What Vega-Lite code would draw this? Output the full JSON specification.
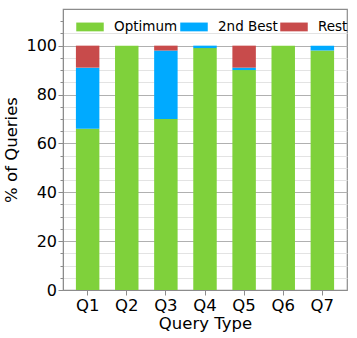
{
  "$schema": "https://vega.github.io/schema/vega-lite/v6.json",
  "width": 284,
  "height": 281,
  "autosize": {"type": "none"},
  "padding": {"left": 63, "top": 9, "right": 10, "bottom": 48},
  "background": "white",
  "config": {
    "font": "DejaVu Sans",
    "view": {"stroke": "#8c8c8c", "strokeWidth": 1.2}
  },
  "data": {
    "values": [
      {"q": "Q1", "type": "Optimum", "rank": 1, "pct": 66},
      {"q": "Q1", "type": "2nd Best", "rank": 2, "pct": 25},
      {"q": "Q1", "type": "Rest", "rank": 3, "pct": 9},
      {"q": "Q2", "type": "Optimum", "rank": 1, "pct": 100},
      {"q": "Q2", "type": "2nd Best", "rank": 2, "pct": 0},
      {"q": "Q2", "type": "Rest", "rank": 3, "pct": 0},
      {"q": "Q3", "type": "Optimum", "rank": 1, "pct": 70},
      {"q": "Q3", "type": "2nd Best", "rank": 2, "pct": 28},
      {"q": "Q3", "type": "Rest", "rank": 3, "pct": 2},
      {"q": "Q4", "type": "Optimum", "rank": 1, "pct": 99},
      {"q": "Q4", "type": "2nd Best", "rank": 2, "pct": 1},
      {"q": "Q4", "type": "Rest", "rank": 3, "pct": 0},
      {"q": "Q5", "type": "Optimum", "rank": 1, "pct": 90},
      {"q": "Q5", "type": "2nd Best", "rank": 2, "pct": 1},
      {"q": "Q5", "type": "Rest", "rank": 3, "pct": 9},
      {"q": "Q6", "type": "Optimum", "rank": 1, "pct": 100},
      {"q": "Q6", "type": "2nd Best", "rank": 2, "pct": 0},
      {"q": "Q6", "type": "Rest", "rank": 3, "pct": 0},
      {"q": "Q7", "type": "Optimum", "rank": 1, "pct": 98},
      {"q": "Q7", "type": "2nd Best", "rank": 2, "pct": 2},
      {"q": "Q7", "type": "Rest", "rank": 3, "pct": 0}
    ]
  },
  "mark": {"type": "bar"},
  "encoding": {
    "x": {
      "field": "q",
      "type": "nominal",
      "scale": {"paddingInner": 0.4, "paddingOuter": 0.33},
      "axis": {
        "title": "Query Type",
        "labelAngle": 0,
        "labelFontSize": 16.5,
        "titleFontSize": 16.5,
        "titleFontWeight": "normal",
        "labelColor": "black",
        "titleColor": "black",
        "domainColor": "#8c8c8c",
        "tickColor": "#8c8c8c",
        "tickSize": 5,
        "labelPadding": 2,
        "titlePadding": 2
      }
    },
    "y": {
      "field": "pct",
      "type": "quantitative",
      "stack": "zero",
      "scale": {"domain": [0, 115], "nice": false},
      "axis": {
        "title": "% of Queries",
        "values": [0, 5, 10, 15, 20, 25, 30, 35, 40, 45, 50, 55, 60, 65, 70, 75, 80, 85, 90, 95, 100, 105, 110],
        "labelExpr": "datum.value % 20 === 0 ? datum.label : ''",
        "labelFontSize": 16,
        "titleFontSize": 16.5,
        "titleFontWeight": "normal",
        "labelColor": "black",
        "titleColor": "black",
        "domainColor": "#8c8c8c",
        "tickColor": "#8c8c8c",
        "tickSize": {"condition": {"test": "datum.value % 20 === 0", "value": 5}, "value": 3},
        "grid": true,
        "gridColor": {"condition": [{"test": "datum.value === 110", "value": "transparent"}, {"test": "datum.value % 20 === 0", "value": "#b0b0b0"}], "value": "#e3e3e3"},
        "labelPadding": 1.5,
        "titlePadding": 6
      }
    },
    "color": {
      "field": "type",
      "type": "nominal",
      "scale": {"domain": ["Optimum", "2nd Best", "Rest"], "range": ["#7fd13b", "#00aaff", "#c84b4b"]},
      "legend": {
        "title": null,
        "orient": "none",
        "direction": "horizontal",
        "legendX": 13,
        "legendY": 3.7,
        "symbolType": "M-1,-0.32H1V0.32H-1Z",
        "symbolSize": 756,
        "symbolStrokeWidth": 0,
        "symbolOpacity": 1,
        "labelFontSize": 13.5,
        "labelColor": "black",
        "labelOffset": 10,
        "columnPadding": 2,
        "padding": 0
      }
    },
    "order": {"field": "rank", "type": "quantitative"}
  }
}
